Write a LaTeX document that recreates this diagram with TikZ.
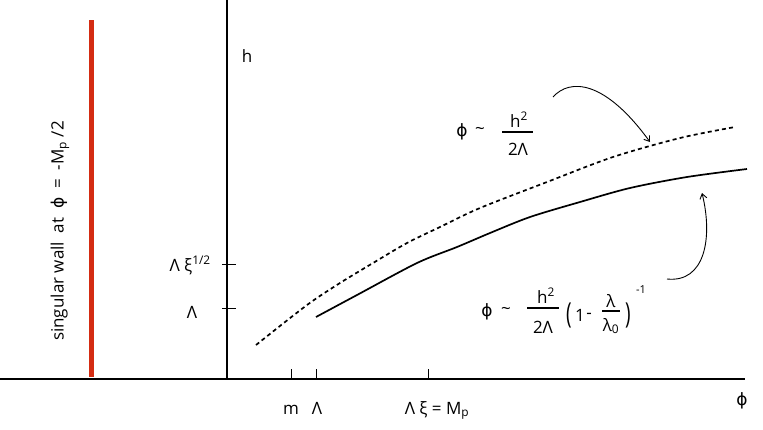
\documentclass[tikz,border=0pt]{standalone}
\usepackage{fontspec}
\setmainfont{Open Sans}
\newfontfamily\phifont{DejaVu Sans}
\newcommand{\myphi}{{\phifont ϕ}}
\usetikzlibrary{arrows.meta}
\definecolor{wallred}{RGB}{212,44,18}
\begin{document}
\begin{tikzpicture}[x=1pt,y=-1pt,
  axis/.style={line width=1.6pt},
  tickmark/.style={line width=0.9pt},
  lbl/.style={font=\fontsize{17}{19}\selectfont, inner sep=0pt},
  smalllbl/.style={font=\fontsize{11}{13}\selectfont, inner sep=0pt},
  curve/.style={line width=1.7pt},
  dcurve/.style={line width=1.7pt, dash pattern=on 4pt off 3.2pt},
  fracbar/.style={line width=1.2pt},
  note/.style={line width=0.9pt,-{Straight Barb[length=5pt,width=7pt]}},
]
\useasboundingbox (0,0) rectangle (763,429);
% axes
\coordinate (xl) at (0,379);
\coordinate (xr) at (745,379);
\coordinate (yb) at (227,379);
\coordinate (yt) at (227,0);
\draw[axis] (xl) -- (xr);
\draw[axis] (yb) -- (yt);
% wall
\coordinate (wt) at (91,20);
\coordinate (wb) at (91,377);
\draw[wallred, line width=5pt] (wt) -- (wb);
\node[lbl, rotate=90] (wall) at (60,231) {singular wall\ \ at\ \ \myphi\ \ =\ \ -M\textsubscript{p} /2};
% axis labels
\node[lbl, anchor=base] (hlab) at (247,62) {h};
\node[lbl] (philab) at (742,401) {\myphi};
% vertical ticks
\coordinate (v1a) at (222,264); \coordinate (v1b) at (236,264);
\coordinate (v2a) at (222,308); \coordinate (v2b) at (236,308);
\draw[tickmark] (v1a) -- (v1b);
\draw[tickmark] (v2a) -- (v2b);
\node[lbl, anchor=base east] (vl1) at (211,271) {Λ ξ\textsuperscript{1/2}};
\node[lbl, anchor=base] (vl2) at (192,318) {Λ};
% horizontal ticks
\coordinate (h1a) at (291,369); \coordinate (h1b) at (291,379);
\coordinate (h2a) at (316,369); \coordinate (h2b) at (316,379);
\coordinate (h3a) at (428,369); \coordinate (h3b) at (428,379);
\draw[tickmark] (h1a) -- (h1b);
\draw[tickmark] (h2a) -- (h2b);
\draw[tickmark] (h3a) -- (h3b);
\node[lbl, anchor=base] (hl1) at (291,414) {m};
\node[lbl, anchor=base] (hl2) at (317,414) {Λ};
\node[lbl, anchor=base] (hl3) at (437,414) {Λ ξ = M\textsubscript{p}};
% curves
\draw[dcurve] plot[smooth] coordinates {(256,345) (307,305) (340,283) (373,263) (407,243) (440,227) (480,208) (547,182) (613,157) (680,138) (735,127)};
\draw[curve] plot[smooth] coordinates {(316,317) (357,295) (417,263) (457,247) (490,233) (530,217) (580,202) (630,188) (687,177) (747,169)};
% formula 1
\node[lbl] (f1phi) at (462,132) {\myphi};
\node[lbl] (f1sim) at (480,131) {\textasciitilde};
\node[lbl, anchor=base] (f1num) at (519,127) {h\textsuperscript{2}};
\coordinate (f1ba) at (502,132); \coordinate (f1bb) at (533,132);
\draw[fracbar] (f1ba) -- (f1bb);
\node[lbl, anchor=base] (f1den) at (518,155) {2Λ};
% formula 2
\node[lbl] (f2phi) at (487,312) {\myphi};
\node[lbl] (f2sim) at (506,311) {\textasciitilde};
\node[lbl, anchor=base] (f2num) at (546,303) {h\textsuperscript{2}};
\coordinate (f2ba) at (527,308); \coordinate (f2bb) at (559,308);
\draw[fracbar] (f2ba) -- (f2bb);
\node[lbl, anchor=base] (f2den) at (543,333) {2Λ};
\node[lbl] (lpar) at (569,315) {\scalebox{1.1}[1.7]{(}};
\node[lbl] (one) at (580,315) {1};
\node[lbl] (minus) at (589,316) {-};
\node[lbl, anchor=base] (lam) at (611,307) {λ};
\coordinate (f3ba) at (602,311); \coordinate (f3bb) at (620,311);
\draw[fracbar] (f3ba) -- (f3bb);
\node[lbl, anchor=base] (lam0) at (611,331) {λ\textsubscript{0}};
\node[lbl] (rpar) at (628,315) {\scalebox{1.1}[1.7]{)}};
\node[smalllbl] (expo) at (641,290) {-1};
% annotation arrows
\coordinate (a1s) at (553,97);
\coordinate (a1e) at (650,142);
\draw[note] (a1s) .. controls (570,78) and (605,80) .. (a1e);
\coordinate (a2s) at (667,279);
\coordinate (a2e) at (702,193);
\draw[note] (a2s) .. controls (705,283) and (713,238) .. (a2e);
\end{tikzpicture}
\end{document}
